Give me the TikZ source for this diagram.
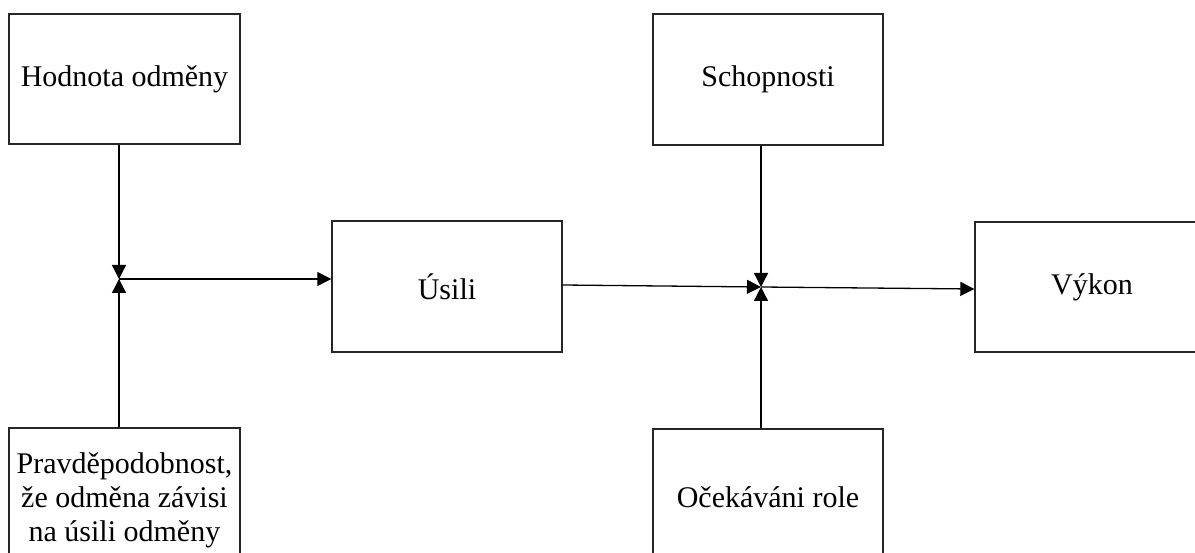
\documentclass[tikz,border=0pt]{standalone}
\usepackage{fontspec}
\setmainfont{Liberation Serif}
\usetikzlibrary{arrows.meta}
\begin{document}
\begin{tikzpicture}[x=1pt,y=-1pt,
  box/.style={draw=black!85, line width=1.4pt, inner sep=0pt, align=center,
    font=\fontsize{30}{34}\selectfont},
  conn/.style={line width=1.3pt, -{Triangle[length=14pt,width=14pt]}}]
\useasboundingbox (0,0) rectangle (1195,553);
\node[box, minimum width=231pt, minimum height=130pt] (hod) at (124.5,79) {Hodnota odměny};
\node[box, minimum width=231pt, minimum height=144pt] (pr) at (124.5,500)
  {Pravděpodobnost,\\že odměna závisi\\na úsili odměny};
\node[box, minimum width=230pt, minimum height=131pt] (us) at (447,286.5) {Úsili};
\node[box, minimum width=230pt, minimum height=131pt] (sch) at (768,79.5) {Schopnosti};
\node[box, minimum width=230pt, minimum height=136pt] (oc) at (768,497) {Očekáváni role};
\node[box, minimum width=234pt, minimum height=130pt] (vy) at (1092,287) {Výkon};
\coordinate (j1) at (119,279);
\coordinate (j2) at (761,287);
\draw[conn] (hod.south -| j1) -- (j1);
\draw[conn] (pr.north -| j1) -- (j1);
\draw[conn] (j1) -- (us.west |- j1);
\draw[conn] ([yshift=1.5pt]us.east) -- (j2);
\draw[conn] (sch.south -| j2) -- (j2);
\draw[conn] (oc.north -| j2) -- (j2);
\draw[conn] (j2) -- ([yshift=-2pt]vy.west);
\end{tikzpicture}
\end{document}
